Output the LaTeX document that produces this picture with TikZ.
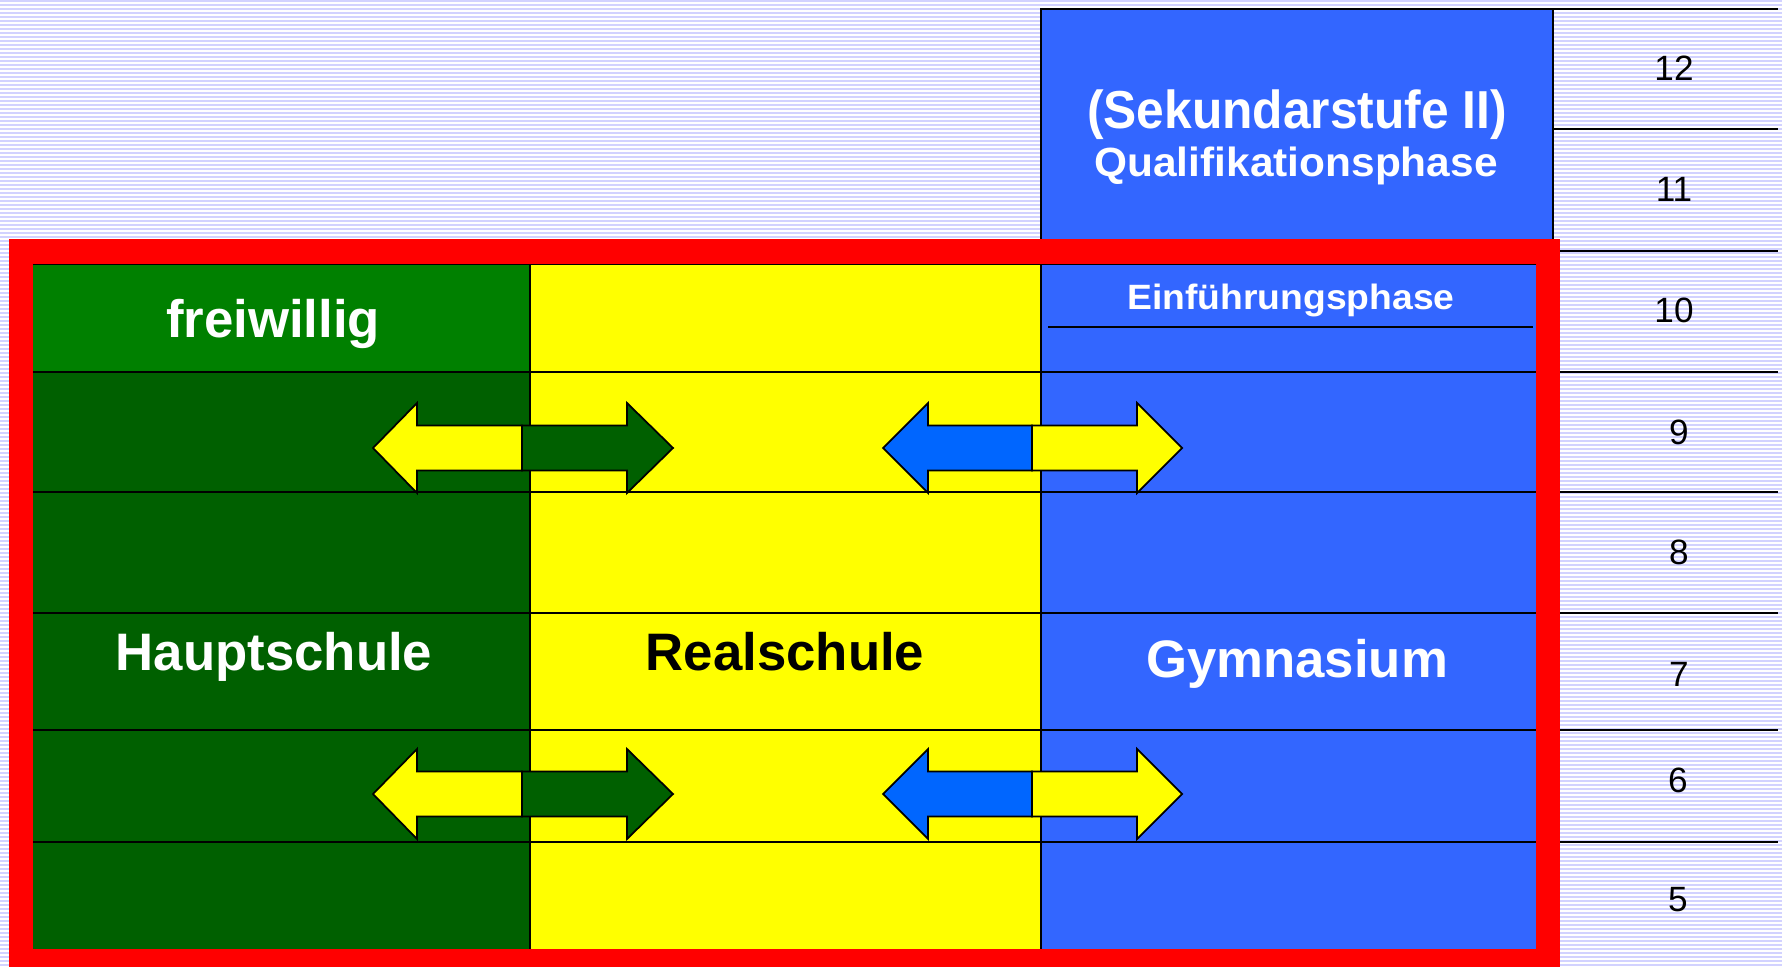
\documentclass[tikz,border=0pt]{standalone}
\usepackage{fontspec}
\setmainfont{Liberation Sans}
\usepackage{graphicx}
\usetikzlibrary{calc}

\definecolor{hgreen}{HTML}{006000}
\definecolor{fgreen}{HTML}{008000}
\definecolor{ryellow}{HTML}{FFFF00}
\definecolor{gblue}{HTML}{3366FF}
\definecolor{ablue}{HTML}{0066FF}
\definecolor{stripe}{HTML}{D2D2FF}

\begin{document}
\begin{tikzpicture}[x=0.01cm, y=-0.01cm,
  grid/.style={line width=0.6pt, draw=black},
  school/.style={font=\fontsize{15pt}{18pt}\selectfont\bfseries, anchor=base, inner sep=0pt},
  grade/.style={font=\fontsize{10pt}{12pt}\selectfont, inner sep=0pt},
  swaparrow/.style={draw=black, line width=0.5pt, line join=miter}]
\useasboundingbox (0,0) rectangle (1782,967);
\clip (0,0) rectangle (1782,967);

% striped background
\fill[white] (0,0) rectangle (1782,967);
\foreach \y in {1,5,...,967} \draw[stripe, line width=0.5pt] (0,\y) -- (1782,\y);

% Sekundarstufe II block
\filldraw[fill=gblue, grid] (1041,9) rectangle (1553,260);
\node[inner sep=0pt, anchor=base, text=white] (sek) at (1297,129) {\fontsize{15.2pt}{18pt}\selectfont\bfseries\scalebox{0.93}[1]{(Sekundarstufe II)}};
\node[inner sep=0pt, anchor=base, text=white] (quali) at (1296,177) {\fontsize{11.6pt}{13pt}\selectfont\bfseries\scalebox{1.04}[1]{Qualifikationsphase}};

% grades
\foreach \y in {9,129,251,372,492,613,730,842} \draw[grid] (1553,\y) -- (1778,\y);
\foreach \g/\x/\y in {12/1674/68,11/1674/189,10/1674/310,9/1679/432,8/1679/552,7/1679/674,6/1678/780,5/1678/900}
  \node[grade] (g\g) at (\x,\y) {\g};

% school columns
\fill[hgreen] (15,251) rectangle (530,967);
\fill[fgreen] (15,251) rectangle (530,372);
\fill[ryellow] (530,251) rectangle (1041,967);
\fill[gblue] (1041,251) rectangle (1553,967);
\foreach \y in {264,372,492,613,730,842} \draw[grid] (15,\y) -- (1553,\y);
\foreach \x in {530,1041} \draw[grid] (\x,251) -- (\x,967);
\draw[grid] (1048,327) -- (1533,327);

\node[school, text=white] (frei) at (273,338) {freiwillig};
\node[school, text=white] (haupt) at (274,670) {Hauptschule};
\node[school, text=black] (real) at (785,670) {Realschule};
\node[school, text=white] (gym) at (1297,677) {Gymnasium};
\node[inner sep=0pt, anchor=base, text=white] (einf) at (1291,310) {\fontsize{10pt}{12pt}\selectfont\bfseries\scalebox{1.06}[1]{Einführungsphase}};

% change-over arrows
\foreach \y in {448,794} {
  \filldraw[swaparrow, fill=ryellow] (373,\y) -- (417,\y-45) -- (417,\y-22.5) -- (522,\y-22.5) -- (522,\y+22.5) -- (417,\y+22.5) -- (417,\y+45) -- cycle;
  \filldraw[swaparrow, fill=hgreen] (673,\y) -- (627,\y-45) -- (627,\y-22.5) -- (522,\y-22.5) -- (522,\y+22.5) -- (627,\y+22.5) -- (627,\y+45) -- cycle;
  \filldraw[swaparrow, fill=ablue] (883,\y) -- (928,\y-45) -- (928,\y-22.5) -- (1032,\y-22.5) -- (1032,\y+22.5) -- (928,\y+22.5) -- (928,\y+45) -- cycle;
  \filldraw[swaparrow, fill=ryellow] (1182,\y) -- (1137,\y-45) -- (1137,\y-22.5) -- (1032,\y-22.5) -- (1032,\y+22.5) -- (1137,\y+22.5) -- (1137,\y+45) -- cycle;
}

% red frame
\draw[red, line width=0.24cm] (21,251.5) rectangle (1548,961);
\end{tikzpicture}
\end{document}
